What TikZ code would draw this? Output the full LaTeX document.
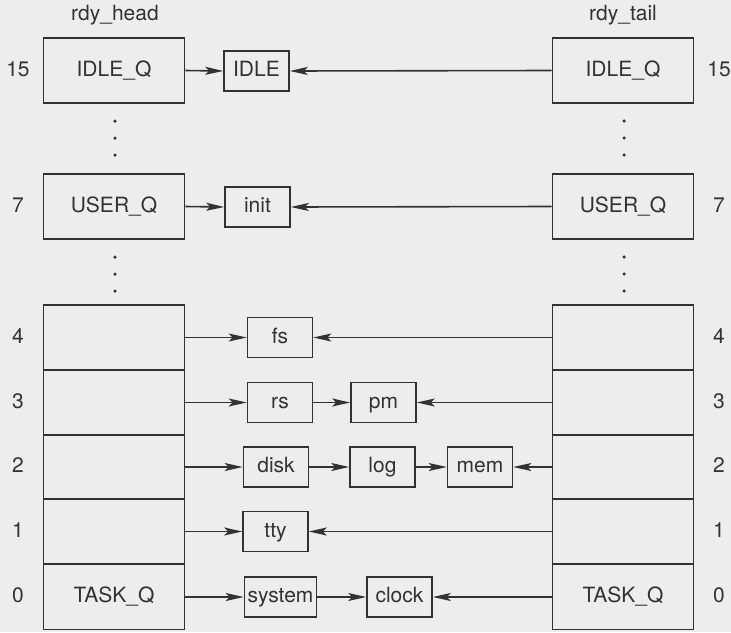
\documentclass[tikz,border=0pt]{standalone}
\usepackage{fontspec}
\setmainfont{TeX Gyre Heros}
\usetikzlibrary{arrows.meta}
\definecolor{bgc}{RGB}{237,237,237}
\definecolor{ink}{RGB}{50,50,50}
\begin{document}
\begin{tikzpicture}[x=1pt,y=-1pt,
  every node/.style={font=\fontsize{21}{25}\selectfont, text=ink, text height=15pt, text depth=4pt},
  qbox/.style={draw=ink, line width=1.6pt, minimum width=141pt, minimum height=65pt, inner sep=0pt},
  pbox/.style={draw=ink, line width=1.6pt, minimum width=65pt, minimum height=40pt, inner xsep=4pt, inner ysep=0pt},
  link/.style={draw=ink, line width=1.6pt, -{Stealth[length=18pt,width=8pt,inset=4pt]}},
  dotc/.style={circle, fill=ink, inner sep=0pt, minimum size=3.5pt, text height=, text depth=}]
\fill[bgc] (0,0) rectangle (731,632);
\useasboundingbox (0,0) rectangle (731,632);

% headers
\node (hh) at (115,15) {rdy\_head};
\node (ht) at (623,15) {rdy\_tail};

% left column
\node[qbox] (L15) at (114,70.5) {IDLE\_Q};
\node[qbox] (L7)  at (114,206.5) {USER\_Q};
\node[qbox] (L4)  at (114,337.5) {};
\node[qbox] (L3)  at (114,402.5) {};
\node[qbox] (L2)  at (114,467) {};
\node[qbox] (L1)  at (114,531.5) {};
\node[qbox] (L0)  at (114,597) {TASK\_Q};

% right column
\node[qbox] (R15) at (623,70.5) {IDLE\_Q};
\node[qbox] (R7)  at (623,206.5) {USER\_Q};
\node[qbox] (R4)  at (623,337.5) {};
\node[qbox] (R3)  at (623,402.5) {};
\node[qbox] (R2)  at (623,467) {};
\node[qbox] (R1)  at (623,531.5) {};
\node[qbox] (R0)  at (623,597) {TASK\_Q};

% numbers
\foreach \n/\y in {15/70.5,7/206.5,4/337.5,3/402.5,2/467,1/531.5,0/597}{
  \node[inner xsep=0pt] (nl\n) at (18,\y) {\n};
  \node[inner xsep=0pt] (nr\n) at (719,\y) {\n};
}

% dots
\foreach \y [count=\i] in {121,138,155,257,274,291}{
  \node[dotc] (dl\i) at (115,\y) {};
  \node[dotc] (dr\i) at (624,\y) {};
}

% process boxes
\node[pbox] (idle)   at (256.5,71)  {IDLE};
\node[pbox] (init)   at (257.5,207) {init};
\node[pbox] (fs)     at (280,337.5) {fs};
\node[pbox] (rs)     at (280,402.5) {rs};
\node[pbox] (pm)     at (383.5,402.5) {pm};
\node[pbox] (disk)   at (276,467)   {disk};
\node[pbox] (log)    at (382.5,467) {log};
\node[pbox] (mem)    at (480,467)   {mem};
\node[pbox] (tty)    at (275.5,531.5) {tty};
\node[pbox, inner xsep=3pt] (system) at (280.5,597) {system};
\node[pbox] (clock)  at (399.5,597) {clock};

% head links
\draw[link] (L15.east) -- (idle.west);
\draw[link] (L7.east) -- (init.west);
\draw[link] (L4.east) -- (fs.west);
\draw[link] (L3.east) -- (rs.west);
\draw[link] (rs.east) -- (pm.west);
\draw[link] (L2.east) -- (disk.west);
\draw[link] (disk.east) -- (log.west);
\draw[link] (log.east) -- (mem.west);
\draw[link] (L1.east) -- (tty.west);
\draw[link] (L0.east) -- (system.west);
\draw[link] (system.east) -- (clock.west);

% tail links
\draw[link] (R15.west) -- (idle.east);
\draw[link] (R7.west) -- (init.east);
\draw[link] (R4.west) -- (fs.east);
\draw[link] (R3.west) -- (pm.east);
\draw[link] (R2.west) -- (mem.east);
\draw[link] (R1.west) -- (tty.east);
\draw[link] (R0.west) -- (clock.east);
\end{tikzpicture}
\end{document}
